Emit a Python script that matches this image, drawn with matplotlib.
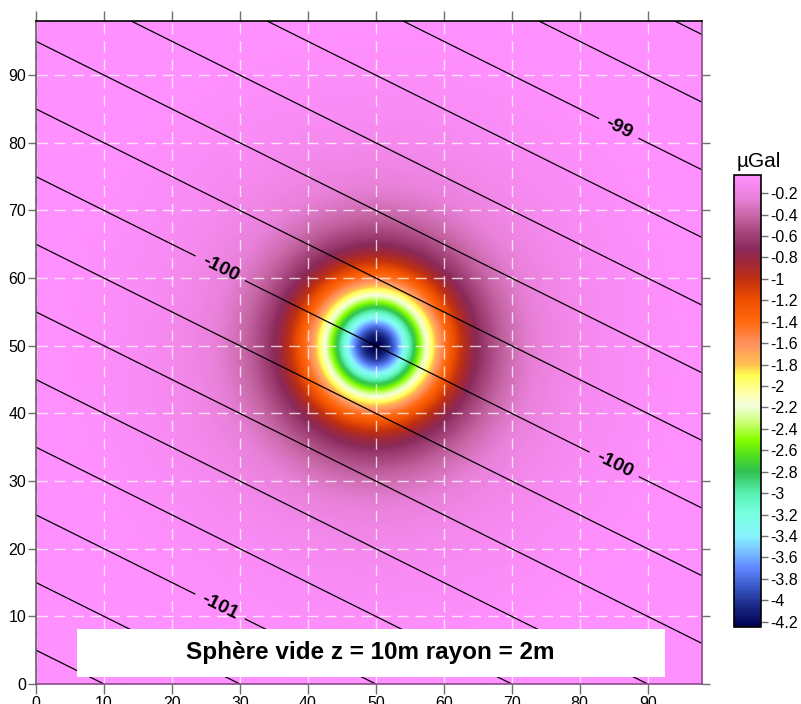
import numpy as np
import matplotlib
matplotlib.use("Agg")
import matplotlib.pyplot as plt
from matplotlib.colors import LinearSegmentedColormap, Normalize
from matplotlib.ticker import FuncFormatter

plt.rcParams['font.family'] = ['Liberation Sans', 'DejaVu Sans']

# --- model parameters (void sphere) ---
sphere_x = 50.0
sphere_y = 50.0
sphere_depth = 10.0          # m
sphere_radius = 2.0          # m
peak_anomaly = -4.25         # µGal at the centre
# regional field: -100 on line y + 0.5 x = 75, 1 unit per 50 m
regional_base = -100.0
regional_offset = 75.0
regional_dir_x = 0.5
regional_scale = 50.0

grid_extent = [0, 98]
contour_levels = [-101.4, -101.2, -100.8, -100.6, -100.4, -100.2,
                  -99.8, -99.6, -99.4, -99.2, -98.8, -98.6]
label_levels = [-101, -100, -99]
label_positions = [(27, 11.3), (27, 61.2), (85, 32.3), (85.6, 81.8)]

xticks = [0, 10, 20, 30, 40, 50, 60, 70, 80, 90]
yticks = [0, 10, 20, 30, 40, 50, 60, 70, 80, 90]
cbar_ticks = np.round(np.arange(-4.2, -0.19, 0.2), 1)
cbar_min, cbar_max = -4.25, -0.03

cmap_values = [-4.25, -4.05, -3.85, -3.7, -3.55, -3.4, -3.2, -3.0, -2.8, -2.65,
               -2.5, -2.35, -2.18, -2.05, -1.9, -1.8, -1.6, -1.4, -1.2, -1.0,
               -0.85, -0.72, -0.55, -0.4, -0.25, -0.03]
cmap_colors = ['#000050', '#1a2a88', '#4060d0', '#6088ff', '#78c0ff', '#88f4ff',
               '#78ffe0', '#58f0b0', '#30c050', '#50e020', '#88ff00', '#c8ff70',
               '#f4ffe0', '#ffffa0', '#ffff50', '#ffc050', '#ff9060', '#ff6a10',
               '#f05000', '#c03010', '#a02838', '#8a2a5a', '#a84880', '#c868a8',
               '#e880d8', '#ff90ff']

title_text = "Sphère vide z = 10m rayon = 2m"
unit_text = "µGal"

# --- fields ---
xs = np.linspace(grid_extent[0], grid_extent[1], 393)
ys = np.linspace(grid_extent[0], grid_extent[1], 393)
X, Y = np.meshgrid(xs, ys)
R2 = (X - sphere_x) ** 2 + (Y - sphere_y) ** 2
anomaly = peak_anomaly * sphere_depth ** 3 / (R2 + sphere_depth ** 2) ** 1.5
regional = regional_base + (Y + regional_dir_x * X - regional_offset) / regional_scale

pos = [(v - cbar_min) / (cbar_max - cbar_min) for v in cmap_values]
pos[0], pos[-1] = 0.0, 1.0
cmap = LinearSegmentedColormap.from_list('grav', list(zip(pos, cmap_colors)), N=512)
norm = Normalize(vmin=cbar_min, vmax=cbar_max)

fig = plt.figure(figsize=(8.01, 7.04), dpi=100)
ax = fig.add_axes([36 / 801, 20 / 704, 666 / 801, 663 / 704])

im = ax.imshow(anomaly, extent=[grid_extent[0], grid_extent[1], grid_extent[0], grid_extent[1]],
               origin='lower', cmap=cmap, norm=norm, interpolation='bilinear', aspect='auto',
               zorder=0)

# grid
for t in xticks:
    ax.axvline(t, color='white', lw=1.0, dashes=(8, 5), alpha=0.75, zorder=1)
for t in yticks:
    ax.axhline(t, color='white', lw=1.0, dashes=(8, 5), alpha=0.75, zorder=1)

ax.contour(X, Y, regional, levels=contour_levels, colors='black', linewidths=0.9,
           linestyles='solid', zorder=2)
cs_lab = ax.contour(X, Y, regional, levels=label_levels, colors='black', linewidths=0.9,
                    linestyles='solid', zorder=2)
labels = ax.clabel(cs_lab, fmt='%d', inline=True, inline_spacing=8,
                   manual=label_positions, fontsize=14)
for lab in labels:
    lab.set_fontweight('bold')

ax.set_xlim(grid_extent)
ax.set_ylim(grid_extent)
ax.set_xticks(xticks)
ax.set_yticks(yticks)
ax.tick_params(axis='both', which='both', direction='out', length=6, width=1,
               color='#707070', labelsize=11.5, pad=1,
               top=True, right=True, labeltop=False, labelright=False)
ax.tick_params(axis='x', pad=2)
ax.tick_params(axis='x', which='both', top=True, length=7)
ax.spines['left'].set_color('#606060')
ax.spines['right'].set_color('#8a4a8a')
ax.spines['bottom'].set_color('#8a4a8a')
ax.spines['top'].set_color('black')
for s in ax.spines.values():
    s.set_linewidth(1.2)

# title box
ax.add_patch(plt.Rectangle((6, 1), 86.5, 7.1, facecolor='white', edgecolor='none', zorder=4))
ax.text(49.25, 4.6, title_text, ha='center', va='center', fontsize=17.5,
        fontweight='bold', zorder=5)

# colorbar
cax = fig.add_axes([734 / 801, 77 / 704, 27 / 801, 452 / 704])
cb = fig.colorbar(im, cax=cax, ticks=cbar_ticks)
cb.outline.set_linewidth(1.2)
cb.ax.yaxis.set_major_formatter(FuncFormatter(lambda v, p: ('%g' % round(v, 1))))
cb.ax.tick_params(length=5, width=1, color='#707070', labelsize=11.5, pad=2)
fig.text(737 / 801, (704 - 167) / 704, unit_text, fontsize=15, ha='left', va='baseline')

fig.savefig('out.png', dpi=100)
